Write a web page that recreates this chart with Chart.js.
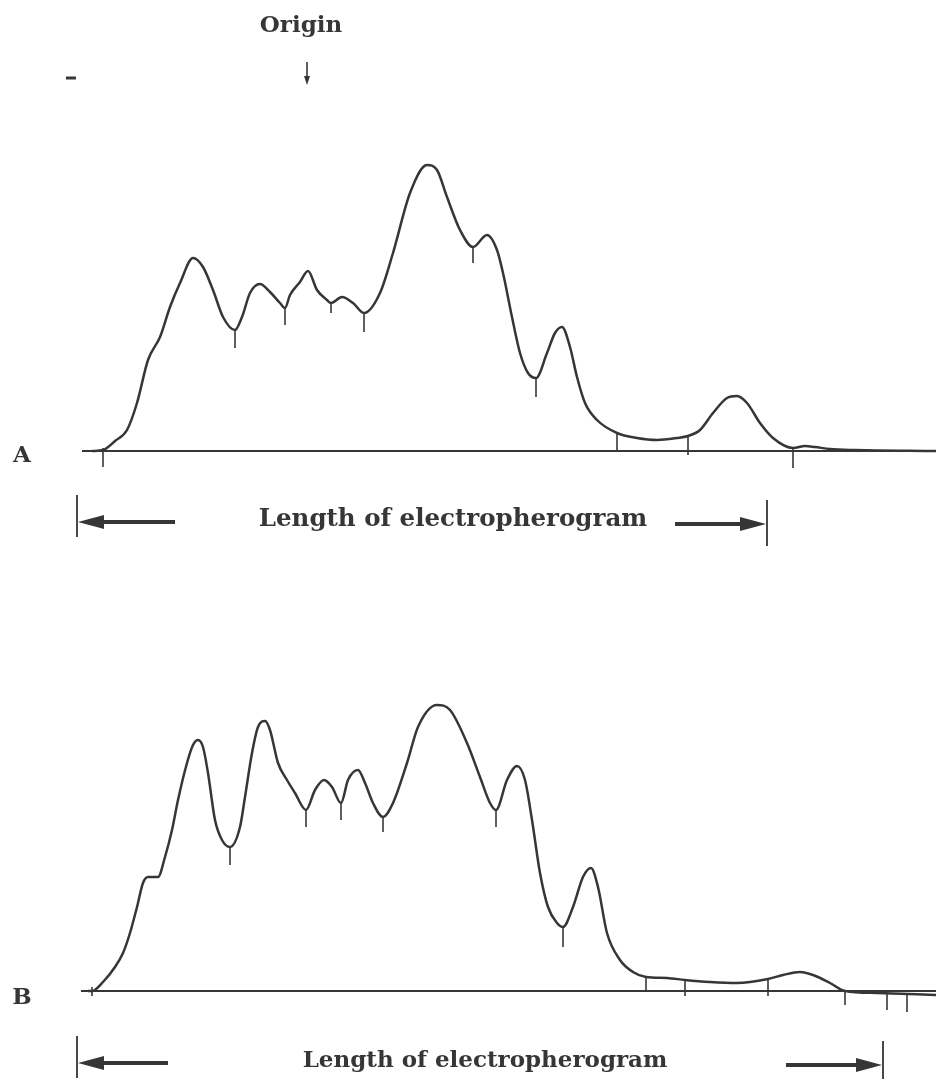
<!DOCTYPE html>
<html>
<head>
<meta charset="utf-8">
<script src="https://cdn.jsdelivr.net/npm/chart.js@4.4.1/dist/chart.umd.min.js"></script>
<style>
  body { margin: 0; background: #fff; }
  .panel { position: relative; width: 936px; }
</style>
</head>
<body>
<div class="panel" style="height:560px"><canvas id="chartA" width="936" height="560"></canvas></div>
<div class="panel" style="height:519px"><canvas id="chartB" width="936" height="519"></canvas></div>
<script>
// distance along the strip (recorder units) and signal height above baseline
const positionsA = [92, 103, 115, 127, 137, 148, 160, 170, 180, 193, 203, 213, 223, 235, 242, 250, 260, 270, 280, 285,
  290, 300, 308, 317, 327, 331, 342, 353, 364, 380, 393, 410, 427, 437, 447, 460, 473, 487, 497, 503,
  512, 520, 528, 536, 547, 555, 562, 570, 577, 585, 597, 617, 637, 657, 677, 688, 700, 713, 727, 737,
  747, 760, 773, 793, 805, 815, 830, 855, 936];
const signalA = [0, 1, 10, 21, 48, 91, 114, 144, 168, 193, 184, 161, 134, 121, 134, 158, 167, 159, 148, 143,
  156, 169, 180, 161, 151, 148, 154, 148, 138, 158, 198, 258, 286, 281, 254, 221, 204, 216, 201, 178,
  134, 98, 78, 73, 98, 118, 124, 104, 74, 48, 31, 18, 13, 11, 13, 15, 21, 38, 53, 55,
  48, 28, 13, 3, 5, 4, 2, 1, 0];

const positionsB = [88, 92, 103, 115, 123, 130, 137, 143, 148, 158, 165, 172, 178, 187, 193, 198, 203, 208, 215, 222,
  230, 240, 245, 252, 258, 265, 270, 278, 287, 295, 306, 315, 324, 332, 341, 348, 358, 365, 373, 383,
  393, 407, 418, 437, 450, 467, 480, 490, 496, 507, 517, 525, 532, 540, 548, 557, 563, 573, 583, 591,
  598, 607, 620, 633, 646, 667, 685, 710, 737, 768, 783, 800, 813, 830, 845, 877, 936];
const signalB = [0, 0, 9, 24, 38, 58, 84, 108, 114, 114, 134, 161, 191, 228, 246, 251, 244, 218, 171, 151,
  144, 164, 194, 238, 264, 270, 261, 228, 211, 198, 181, 201, 211, 204, 188, 211, 221, 208, 188, 174,
  188, 228, 264, 286, 281, 248, 214, 188, 181, 211, 225, 211, 171, 118, 84, 68, 64, 84, 114, 123,
  104, 58, 31, 19, 14, 13, 11, 9, 8, 12, 16, 19, 16, 8, 0, -2, -4];

// integrator cut marks: [position, top, bottom]
const cutsA = [[103, 3, -16], [235, 121, 103], [285, 143, 126], [331, 148, 138], [364, 138, 119],
  [473, 204, 188], [536, 73, 54], [617, 18, 0], [688, 15, -4], [793, 3, -17]];
const cutsB = [[92, 4, -5], [230, 144, 126], [306, 181, 164], [341, 188, 171], [383, 174, 159],
  [496, 181, 164], [563, 64, 44], [646, 14, 0], [685, 11, -5], [768, 12, -5], [845, 0, -14],
  [887, -2, -19], [907, -2, -21]];

const baselineA = [82, 936];
const baselineB = [81, 936];
const lengthA = [77, 767];   // extent of electropherogram
const lengthB = [77, 883];
const originPos = 307;

const INK = '#363636';
const SERIF = '"DejaVu Serif", "Liberation Serif", serif';

function toPoints(xs, ys) {
  return xs.map((x, i) => ({ x: x, y: ys[i] }));
}

function arrow(ctx, x0, x1, y) {
  const dir = Math.sign(x1 - x0);
  ctx.beginPath();
  ctx.moveTo(x0, y);
  ctx.lineTo(x1 - dir * 20, y);
  ctx.lineWidth = 4;
  ctx.stroke();
  ctx.beginPath();
  ctx.moveTo(x1, y);
  ctx.lineTo(x1 - dir * 26, y - 7);
  ctx.lineTo(x1 - dir * 26, y + 7);
  ctx.closePath();
  ctx.fill();
}

const marksPlugin = {
  id: 'marks',
  afterDatasetsDraw(chart, args, opts) {
    const ctx = chart.ctx;
    const xs = chart.scales.x, ys = chart.scales.y;
    ctx.save();
    ctx.strokeStyle = INK;
    ctx.fillStyle = INK;
    ctx.lineCap = 'butt';

    // cut marks
    ctx.lineWidth = 1.6;
    opts.cuts.forEach(c => {
      const px = xs.getPixelForValue(c[0]);
      ctx.beginPath();
      ctx.moveTo(px, ys.getPixelForValue(c[1]));
      ctx.lineTo(px, ys.getPixelForValue(c[2]));
      ctx.stroke();
    });

    // panel letter
    ctx.font = 'bold 23px ' + SERIF;
    ctx.textAlign = 'center';
    ctx.textBaseline = 'middle';
    ctx.fillText(opts.letter, xs.getPixelForValue(22), ys.getPixelForValue(opts.letterY));

    // length of electropherogram
    const yL = ys.getPixelForValue(opts.lengthY);
    const l0 = xs.getPixelForValue(opts.length[0]);
    const l1 = xs.getPixelForValue(opts.length[1]);
    ctx.lineWidth = 1.8;
    ctx.beginPath();
    ctx.moveTo(l0, yL - 27); ctx.lineTo(l0, yL + 15);
    ctx.moveTo(l1, yL - 22); ctx.lineTo(l1, yL + 24);
    ctx.stroke();
    arrow(ctx, xs.getPixelForValue(opts.arrowLeft), l0 + 1, yL);
    arrow(ctx, xs.getPixelForValue(opts.arrowRight), l1 - 1, yL + 2);
    ctx.font = 'bold ' + opts.textSize + 'px ' + SERIF;
    ctx.fillText('Length of electropherogram', xs.getPixelForValue(opts.textX), yL - 2);

    if (opts.origin) {
      const ox = xs.getPixelForValue(originPos);
      ctx.font = 'bold 23px ' + SERIF;
      ctx.fillText('Origin', ox - 6, ys.getPixelForValue(425));
      ctx.lineWidth = 1.6;
      ctx.beginPath();
      ctx.moveTo(ox, ys.getPixelForValue(389));
      ctx.lineTo(ox, ys.getPixelForValue(372));
      ctx.stroke();
      ctx.beginPath();
      ctx.moveTo(ox, ys.getPixelForValue(366));
      ctx.lineTo(ox - 3, ys.getPixelForValue(375));
      ctx.lineTo(ox + 3, ys.getPixelForValue(375));
      ctx.closePath();
      ctx.fill();
      // cathode sign
      ctx.lineWidth = 3;
      ctx.beginPath();
      ctx.moveTo(xs.getPixelForValue(66), ys.getPixelForValue(373));
      ctx.lineTo(xs.getPixelForValue(76), ys.getPixelForValue(373));
      ctx.stroke();
    }
    ctx.restore();
  }
};

function makeChart(id, xs, ys, base, cuts, yMax, yMin, extra) {
  return new Chart(document.getElementById(id), {
    type: 'scatter',
    data: {
      datasets: [
        {
          data: [{ x: base[0], y: 0 }, { x: base[1], y: 0 }],
          showLine: true, borderColor: INK, borderWidth: 2, pointRadius: 0
        },
        {
          data: toPoints(xs, ys),
          showLine: true, borderColor: INK, borderWidth: 2.5, pointRadius: 0,
          cubicInterpolationMode: 'monotone'
        }
      ]
    },
    options: {
      responsive: false,
      animation: false,
      layout: { padding: 0 },
      plugins: {
        legend: { display: false },
        tooltip: { enabled: false },
        marks: Object.assign({ cuts: cuts }, extra)
      },
      scales: {
        x: { type: 'linear', min: 0, max: 936, display: false },
        y: { min: yMin, max: yMax, display: false }
      }
    },
    plugins: [marksPlugin]
  });
}

makeChart('chartA', positionsA, signalA, baselineA, cutsA, 451, -109, {
  letter: 'A', letterY: -5, length: lengthA, lengthY: -71, arrowLeft: 175, arrowRight: 675,
  textX: 453, textSize: 24.5, origin: true
});
makeChart('chartB', positionsB, signalB, baselineB, cutsB, 431, -88, {
  letter: 'B', letterY: -7, length: lengthB, lengthY: -72, arrowLeft: 168, arrowRight: 786,
  textX: 485, textSize: 23, origin: false
});
</script>
</body>
</html>
